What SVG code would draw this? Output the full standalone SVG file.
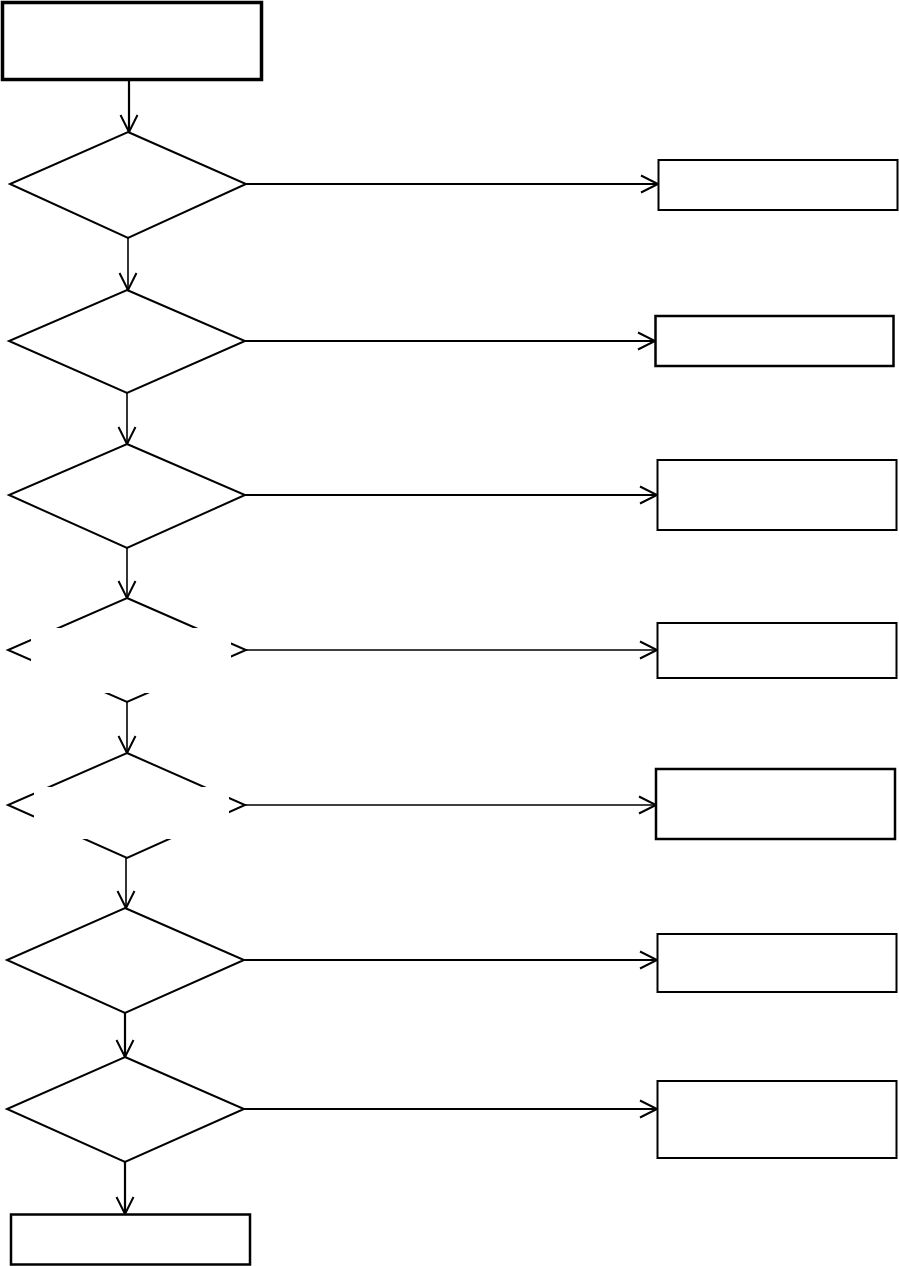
<svg xmlns="http://www.w3.org/2000/svg" width="899" height="1266" viewBox="0 0 899 1266">
<style>
.n{fill:#fff;stroke:#000;stroke-width:2}
.c{fill:none;stroke:#000;stroke-width:1.6}
.t{stroke-width:2.2}
.h{stroke-width:1.3}
.g{fill:#fff;stroke:none}
</style>
<defs>
<marker id="a" markerUnits="userSpaceOnUse" markerWidth="40" markerHeight="40" refX="20" refY="20" orient="auto" overflow="visible">
<path d="M3,11.5 L20,20 L3,28.5" fill="none" stroke="#000" stroke-width="2"/>
</marker>
</defs>
<g id="connectors">
<line class="c t" x1="129" y1="80" x2="129" y2="132" marker-end="url(#a)"/>
<line class="c t" x1="246" y1="184" x2="658" y2="184" marker-end="url(#a)"/>
<line class="c" x1="128" y1="238" x2="128" y2="290" marker-end="url(#a)"/>
<line class="c t" x1="245" y1="341" x2="655" y2="341" marker-end="url(#a)"/>
<line class="c" x1="127" y1="393" x2="127" y2="444" marker-end="url(#a)"/>
<line class="c t" x1="245" y1="495" x2="657" y2="495" marker-end="url(#a)"/>
<line class="c" x1="127" y1="548" x2="127" y2="598" marker-end="url(#a)"/>
<line class="c h" x1="246" y1="650" x2="657" y2="650" marker-end="url(#a)"/>
<line class="c" x1="127" y1="702" x2="127" y2="753" marker-end="url(#a)"/>
<line class="c h" x1="245" y1="805" x2="656" y2="805" marker-end="url(#a)"/>
<line class="c" x1="126" y1="858" x2="126" y2="908" marker-end="url(#a)"/>
<line class="c t" x1="244" y1="960" x2="657" y2="960" marker-end="url(#a)"/>
<line class="c t" x1="125" y1="1013" x2="125" y2="1057" marker-end="url(#a)"/>
<line class="c t" x1="244" y1="1109" x2="657" y2="1109" marker-end="url(#a)"/>
<line class="c t" x1="125" y1="1162" x2="125" y2="1214" marker-end="url(#a)"/>
</g>
<g id="start"><rect class="n" x="2.5" y="2.5" width="259" height="77" style="stroke-width:3.5"/></g>
<g id="d1"><polygon class="n" points="128,132 246,184 128,238 10,184"/></g>
<g id="r1"><rect class="n" x="658.5" y="160" width="239" height="50"/></g>
<g id="d2"><polygon class="n" points="127,290 245,341 127,393 9,341"/></g>
<g id="r2"><rect class="n" x="655.5" y="316" width="238" height="50" style="stroke-width:2.5"/></g>
<g id="d3"><polygon class="n" points="127,444 245,495 127,548 9,495"/></g>
<g id="r3"><rect class="n" x="657.5" y="460" width="239" height="70"/></g>
<g id="d4"><polygon class="n" points="127,598 246,650 127,702 8,650"/><rect class="g" x="31" y="628" width="200" height="65"/></g>
<g id="r4"><rect class="n" x="657.5" y="623" width="239" height="55"/></g>
<g id="d5"><polygon class="n" points="127,753 245,805 127,858 8,805"/><rect class="g" x="34" y="787" width="195" height="52"/></g>
<g id="r5"><rect class="n" x="656" y="769" width="239" height="70" style="stroke-width:2.5"/></g>
<g id="d6"><polygon class="n" points="125,908 244,960 125,1013 7,960"/></g>
<g id="r6"><rect class="n" x="657.5" y="934" width="239" height="58"/></g>
<g id="d7"><polygon class="n" points="125,1057 244,1109 125,1162 7,1109"/></g>
<g id="r7"><rect class="n" x="657.5" y="1081" width="239" height="77"/></g>
<g id="end"><rect class="n" x="11" y="1214.5" width="239" height="50" style="stroke-width:2.5"/></g>
</svg>
